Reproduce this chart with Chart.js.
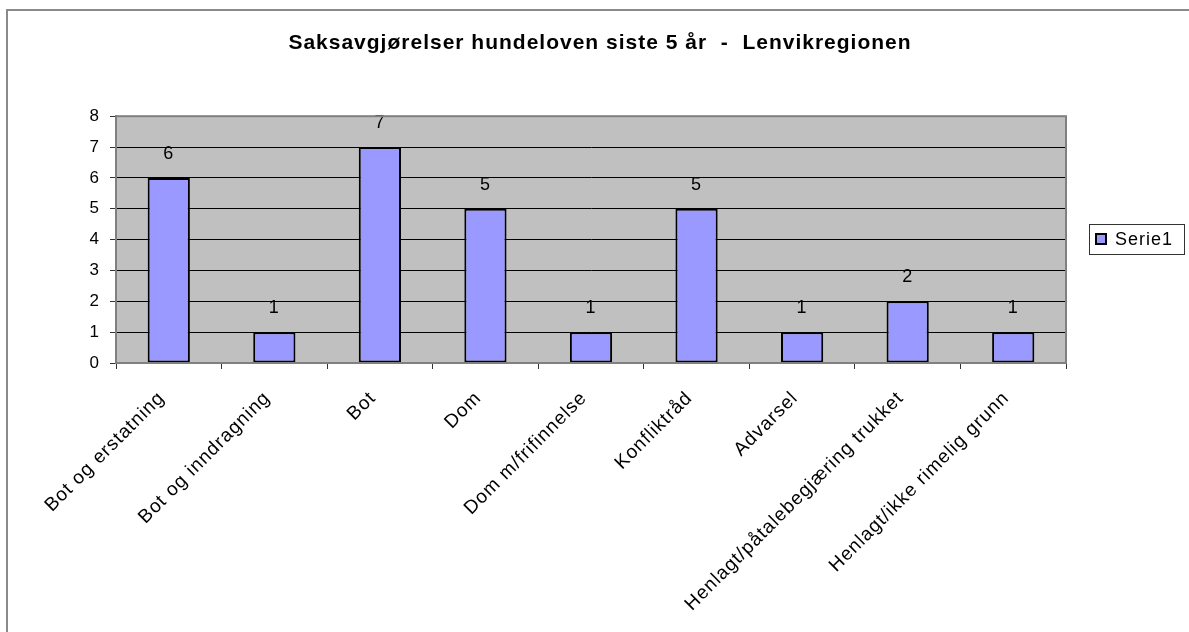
<!DOCTYPE html>
<html>
<head>
<meta charset="utf-8">
<script src="https://cdn.jsdelivr.net/npm/chart.js@4"></script>
<style>
  html, body { margin: 0; padding: 0; background: #fff; }
  #wrap { width: 1189px; height: 632px; position: relative; }
</style>
</head>
<body>
<div id="wrap"><canvas id="saker" width="1189" height="632"></canvas></div>
<script>
// case outcomes under the dog law, last 5 years
const categories = [
  'Bot og erstatning',
  'Bot og inndragning',
  'Bot',
  'Dom',
  'Dom m/frifinnelse',
  'Konfliktråd',
  'Advarsel',
  'Henlagt/påtalebegjæring trukket',
  'Henlagt/ikke rimelig grunn'
];
const serie1 = [6, 1, 7, 5, 1, 5, 1, 2, 1];
const seriesLabel = 'Serie1';
const yTicks = [0, 1, 2, 3, 4, 5, 6, 7, 8];
const chartTitle = 'Saksavgjørelser hundeloven siste 5 år  -  Lenvikregionen';

const FONT = '"Liberation Sans", Arial, sans-serif';

// the old office-style text is a bit wider than Liberation, so space it out a little
const spacing = {
  id: 'spacing',
  beforeLayout(chart) { chart.ctx.letterSpacing = '1px'; },
  beforeDraw(chart) { chart.ctx.letterSpacing = '1px'; }
};

// gray plot background + plot border, outer frame
const frame = {
  id: 'frame',
  beforeDraw(chart) {
    const ctx = chart.ctx, a = chart.chartArea;
    ctx.save();
    ctx.fillStyle = '#c0c0c0';
    ctx.fillRect(a.left, a.top, a.right - a.left, a.bottom - a.top);
    ctx.strokeStyle = '#8a8a8a';
    ctx.lineWidth = 2;
    ctx.beginPath();
    ctx.moveTo(7, 632);
    ctx.lineTo(7, 10);
    ctx.lineTo(1189, 10);
    ctx.stroke();
    ctx.restore();
  },
  afterDraw(chart) {
    const ctx = chart.ctx, a = chart.chartArea;
    ctx.save();
    ctx.strokeStyle = '#808080';
    ctx.lineWidth = 2;
    ctx.strokeRect(a.left, a.top, a.right - a.left, a.bottom - a.top);
    ctx.restore();
  }
};

// value labels above each bar
const barLabels = {
  id: 'barLabels',
  afterDatasetsDraw(chart) {
    const ctx = chart.ctx;
    ctx.save();
    ctx.font = '18px ' + FONT;
    ctx.fillStyle = '#000';
    ctx.textAlign = 'center';
    ctx.textBaseline = 'middle';
    chart.getDatasetMeta(0).data.forEach((bar, i) => {
      ctx.fillText(String(serie1[i]), bar.x, bar.y - 24);
    });
    ctx.restore();
  }
};

// boxed legend on the right
const boxLegend = {
  id: 'boxLegend',
  afterDraw(chart) {
    const ctx = chart.ctx;
    const ds = chart.data.datasets[0];
    ctx.save();
    ctx.strokeStyle = '#333';
    ctx.lineWidth = 1;
    ctx.strokeRect(1089.5, 224.5, 95, 30);
    ctx.fillStyle = ds.backgroundColor;
    ctx.fillRect(1096, 234, 10, 10);
    ctx.strokeStyle = '#000';
    ctx.lineWidth = 2;
    ctx.strokeRect(1096, 234, 10, 10);
    ctx.font = '18px ' + FONT;
    ctx.fillStyle = '#000';
    ctx.textBaseline = 'middle';
    ctx.fillText(ds.label, 1115, 240);
    ctx.restore();
  }
};

new Chart(document.getElementById('saker'), {
  type: 'bar',
  data: {
    labels: categories,
    datasets: [{
      label: seriesLabel,
      data: serie1,
      backgroundColor: '#9999ff',
      borderColor: '#000000',
      borderWidth: 2,
      borderSkipped: false,
      barPercentage: 0.4,
      categoryPercentage: 1.0
    }]
  },
  options: {
    responsive: false,
    animation: false,
    layout: { padding: { left: 11, right: 0, top: 0, bottom: 0 } },
    plugins: {
      legend: { display: false },
      tooltip: { enabled: false },
      title: {
        display: true,
        text: chartTitle,
        color: '#000',
        font: { family: FONT, size: 21, weight: 'bold', lineHeight: 1.2 },
        padding: { top: 31, bottom: 60 }
      }
    },
    scales: {
      x: {
        offset: true,
        grid: { offset: true, drawOnChartArea: false, drawTicks: true, tickLength: 6, color: '#333' },
        border: { color: '#808080', width: 2 },
        ticks: {
          minRotation: 45, maxRotation: 45, autoSkip: false,
          color: '#000', padding: 18, labelOffset: -7,
          font: { family: FONT, size: 19 }
        },
        afterFit(scale) { scale.height = 269; }
      },
      y: {
        min: 0, max: 8,
        afterBuildTicks(scale) { scale.ticks = yTicks.map(v => ({ value: v })); },
        grid: { color: '#000', lineWidth: 1, tickLength: 6, tickColor: '#333' },
        border: { color: '#808080', width: 2 },
        ticks: { color: '#000', padding: 10, font: { family: FONT, size: 17 } },
        afterFit(scale) { scale.width = 105; }
      },
      // empty axis on the right only reserves room for the legend box
      legendRoom: {
        type: 'linear',
        position: 'right',
        grid: { display: false, drawTicks: false },
        border: { display: false },
        ticks: { display: false },
        afterFit(scale) { scale.width = 123; }
      }
    }
  },
  plugins: [spacing, frame, barLabels, boxLegend]
});
</script>
</body>
</html>
